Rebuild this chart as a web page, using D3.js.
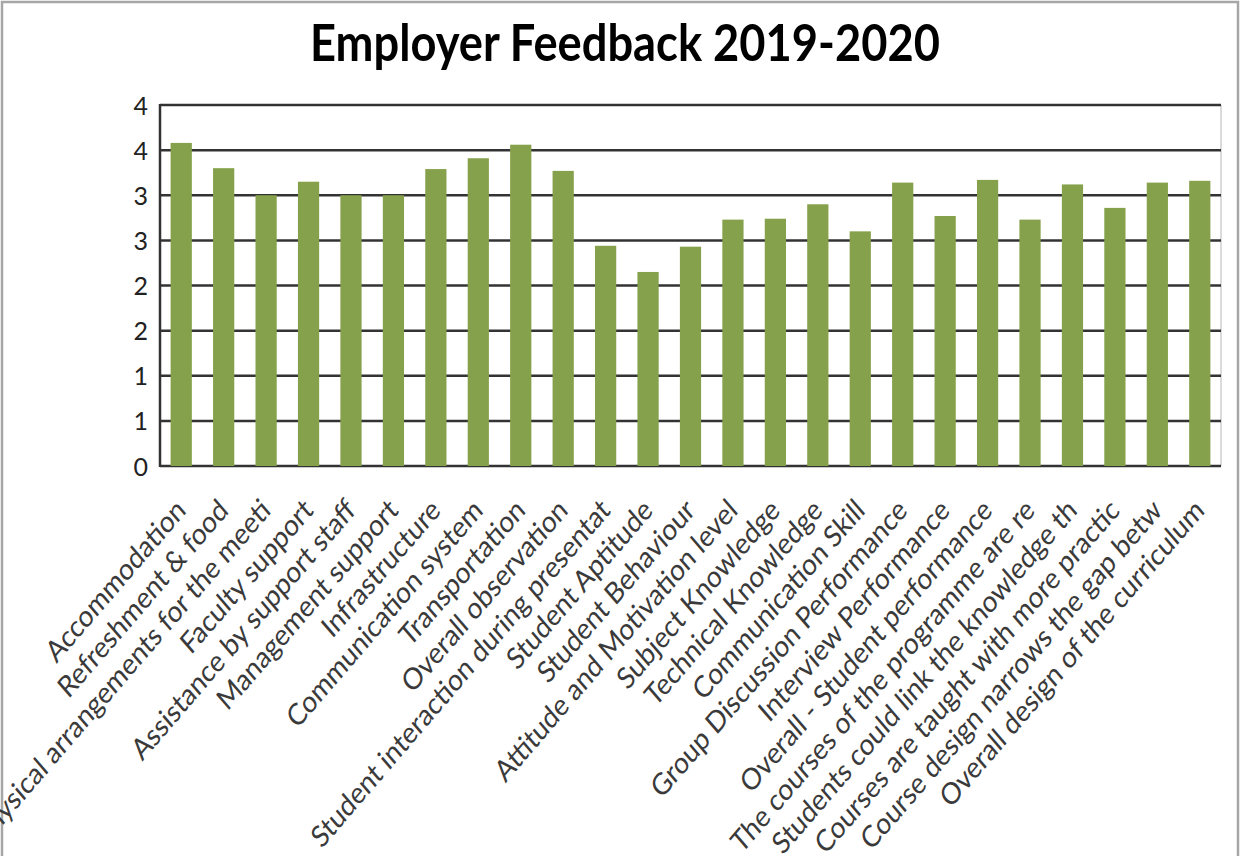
<!DOCTYPE html>
<html>
<head>
<meta charset="utf-8">
<script src="https://cdn.jsdelivr.net/npm/d3@7"></script>
<style>
  body { margin: 0; background: #fff; }
  svg { display: block; }
</style>
</head>
<body>
<div id="chart"></div>
<script>
const categories = [
  "Accommodation", "Refreshment & food", "Physical arrangements for the meeti",
  "Faculty support", "Assistance by support staff", "Management support",
  "Infrastructure", "Communication system", "Transportation", "Overall observation",
  "Student interaction during presentat", "Student Aptitude", "Student Behaviour",
  "Attitude and Motivation level", "Subject Knowledge", "Technical Knowledge",
  "Communication Skill", "Group Discussion Performance", "Interview Performance",
  "Overall - Student performance", "The courses of the programme are re",
  "Students could link the knowledge th", "Courses are taught with more practic",
  "Course design narrows the gap betw", "Overall design of the curriculum"
];
const scores = [
  3.58, 3.30, 3.00, 3.15, 3.00, 3.00, 3.29, 3.41, 3.56, 3.27,
  2.44, 2.15, 2.43, 2.73, 2.74, 2.90, 2.60, 3.14, 2.77, 3.17,
  2.73, 3.12, 2.86, 3.14, 3.16
];
const yTicks = [0, 0.5, 1, 1.5, 2, 2.5, 3, 3.5, 4];
const title = "Employer Feedback 2019-2020";

class FeedbackChart {
  constructor(container) {
    this.container = container;
    this.width = 1247;
    this.height = 856;
    this.margin = {top: 105, right: 26, bottom: 390, left: 160};
    this.squash = 0.86; // picture is a bit narrower than tall
  }
  init = () => {
    this.svg = d3.select(this.container)
                 .append("svg")
                   .attr("width", this.width)
                   .attr("height", this.height);
    const data = categories.map((c, i) => ({name: c, value: scores[i]}));
    const x0 = this.margin.left, x1 = this.width - this.margin.right;
    const y0 = this.height - this.margin.bottom, y1 = this.margin.top;

    this.x = d3.scaleBand()
               .domain(categories)
               .range([x0, x1])
               .paddingInner(0.5)
               .paddingOuter(0.25);
    this.y = d3.scaleLinear()
               .domain([0, 4])
               .range([y0, y1]);

    // outer frame
    this.svg.append("path")
        .attr("d", `M2,${this.height} V2 H1238 V${this.height}`)
        .attr("fill", "none")
        .attr("stroke", "#a6a6a6")
        .attr("stroke-width", 2.5);

    // plot right edge
    this.svg.append("line")
        .attr("x1", x1).attr("x2", x1)
        .attr("y1", y1).attr("y2", y0)
        .attr("stroke", "#cfcfcf")
        .attr("stroke-width", 1.5);

    // gridlines
    this.svg.append("g")
      .selectAll("line")
      .data(yTicks)
      .enter()
      .append("line")
        .attr("x1", x0).attr("x2", x1)
        .attr("y1", d => this.y(d)).attr("y2", d => this.y(d))
        .attr("stroke", "#333")
        .attr("stroke-width", 2.5);

    // bars
    this.svg.append("g")
      .selectAll("rect")
      .data(data)
      .enter()
      .append("rect")
        .attr("x", d => this.x(d.name))
        .attr("width", this.x.bandwidth())
        .attr("y", d => this.y(d.value))
        .attr("height", d => this.y(0) - this.y(d.value))
        .attr("fill", "#86a14b");

    // axis line at the left
    this.svg.append("line")
        .attr("x1", x0).attr("x2", x0)
        .attr("y1", y1 - 1).attr("y2", y0 + 1)
        .attr("stroke", "#333")
        .attr("stroke-width", 2.5);

    // y tick labels
    const yAxis = d3.axisLeft(this.y)
                    .tickValues(yTicks)
                    .tickSize(0)
                    .tickPadding(12)
                    .tickFormat(d => (d).toFixed(0));
    const gy = this.svg.append("g")
                  .attr("transform", `translate(${x0},0)`)
                  .call(yAxis);
    gy.select(".domain").remove();
    gy.selectAll("text")
        .attr("font-family", "Lato, 'Open Sans', sans-serif")
        .attr("font-size", "25px")
        .attr("fill", "#222")
        .attr("dy", "0.36em");

    // category labels, rotated
    this.svg.append("g")
      .selectAll("text")
      .data(data)
      .enter()
      .append("text")
        .attr("transform", d => `translate(${this.x(d.name) + this.x.bandwidth() / 2 + 6},${y0 + 46}) scale(${this.squash},1) rotate(-45)`)
        .attr("text-anchor", "end")
        .attr("font-family", "Lato, 'Open Sans', sans-serif")
        .attr("font-size", "30px")
        .attr("fill", "#3a3a3a")
        .text(d => d.name);

    // title
    const t = this.svg.append("text")
        .attr("text-anchor", "middle")
        .attr("font-family", "Lato, 'Open Sans', sans-serif")
        .attr("font-weight", "bold")
        .attr("font-size", "51px")
        .attr("fill", "#000")
        .text(title);
    const len = t.node().getComputedTextLength();
    t.attr("transform", `translate(625,61) scale(${630 / len},1)`);
  }
}

const chart = new FeedbackChart(document.getElementById("chart"));
chart.init();
</script>
</body>
</html>
